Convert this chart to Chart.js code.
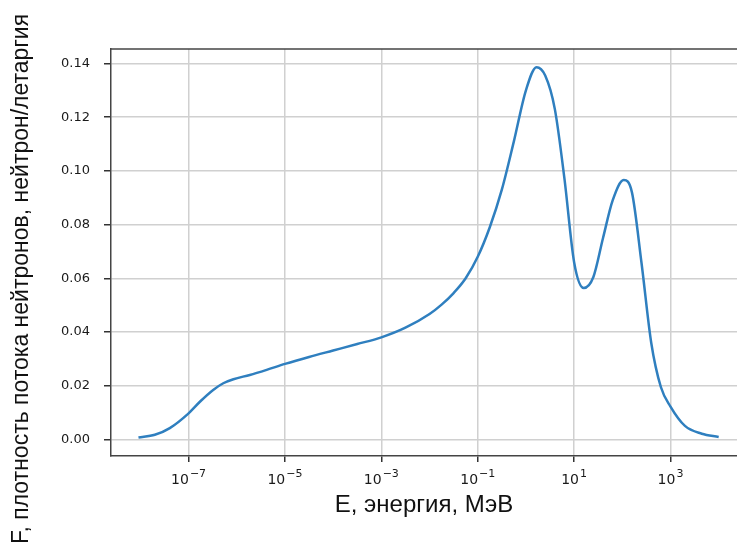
<!DOCTYPE html>
<html>
<head>
<meta charset="utf-8">
<script src="https://cdn.jsdelivr.net/npm/chart.js@4"></script>
<style>
  html, body { margin: 0; padding: 0; background: #fff; overflow: hidden; }
  #wrap { width: 737px; height: 550px; }
</style>
</head>
<body>
<div id="wrap"><canvas id="chart"></canvas></div>
<script>
// log10 of energy (MeV) and flux per lethargy
const logEnergy = [-8.04, -7.70, -7.39, -7.0, -6.76, -6.49, -6.28, -6.07, -5.73, -5.38,
    -5.0, -4.5, -4.0, -3.5, -3.0, -2.5, -2.0, -1.75, -1.5, -1.25,
    -1.0, -0.75, -0.5, -0.25, 0.0, 0.22, 0.4, 0.6, 0.8, 1.0,
    1.2, 1.4, 1.6, 1.8, 2.03, 2.2, 2.4, 2.6, 2.8, 3.0,
    3.3, 3.65, 4.0];
const flux = [0.0007, 0.0017, 0.0042, 0.0097, 0.0141, 0.0184, 0.0209, 0.0224, 0.0240, 0.0259,
    0.0281, 0.0307, 0.0331, 0.0355, 0.038, 0.0416, 0.0467, 0.0502, 0.0545, 0.060,
    0.068, 0.079, 0.093, 0.111, 0.130, 0.1386, 0.1355, 0.123, 0.097, 0.066,
    0.0564, 0.0605, 0.075, 0.089, 0.0966, 0.092, 0.0655, 0.036, 0.0195, 0.0122,
    0.005, 0.0021, 0.0009];

const xTickValues = [1e-7, 1e-5, 1e-3, 1e-1, 1e1, 1e3];
const xTickBase = '10';
const xTickExp = ['−7', '−5', '−3', '−1', '1', '3'];
const yTickValues = [0, 0.02, 0.04, 0.06, 0.08, 0.10, 0.12, 0.14];

const xTitle = 'E, энергия, МэВ';
const yTitle = 'F, плотность потока нейтронов, нейтрон/летаргия';

const points = logEnergy.map((v, i) => ({ x: Math.pow(10, v), y: flux[i] }));

const frame = {
    id: 'frame',
    afterDraw: chart => {
        const { ctx, chartArea } = chart;
        const xScale = chart.scales.x;
        ctx.save();
        ctx.strokeStyle = '#444';
        ctx.lineWidth = 1.5;
        ctx.beginPath();
        ctx.moveTo(chartArea.left, chartArea.top);
        ctx.lineTo(chartArea.right + 5, chartArea.top);
        ctx.stroke();

        // power-of-ten tick labels, "10" with a raised exponent
        ctx.fillStyle = '#1a1a1a';
        ctx.textAlign = 'left';
        ctx.textBaseline = 'alphabetic';
        xTickValues.forEach((v, i) => {
            const px = xScale.getPixelForValue(v);
            ctx.font = '14px "DejaVu Sans"';
            const wb = ctx.measureText(xTickBase).width;
            ctx.font = '11px "DejaVu Sans"';
            const we = ctx.measureText(xTickExp[i]).width;
            const start = px - (wb + we + 1) / 2;
            ctx.font = '14px "DejaVu Sans"';
            ctx.fillText(xTickBase, start, 484);
            ctx.font = '11px "DejaVu Sans"';
            ctx.fillText(xTickExp[i], start + wb + 1, 477);
        });

        // y axis title
        ctx.translate(22, 279);
        ctx.rotate(-Math.PI / 2);
        ctx.font = '23px "Liberation Sans", Arial, sans-serif';
        ctx.fillStyle = '#111';
        ctx.textAlign = 'center';
        ctx.textBaseline = 'middle';
        ctx.fillText(yTitle, 0, 0);
        ctx.restore();
    }
};

const ctx = document.getElementById('chart').getContext('2d');
new Chart(ctx, {
    type: 'line',
    data: {
        datasets: [{
            data: points,
            borderColor: '#2f7fbf',
            borderWidth: 2.5,
            pointRadius: 0,
            fill: false,
            cubicInterpolationMode: 'monotone'
        }]
    },
    options: {
        responsive: true,
        maintainAspectRatio: false,
        animation: false,
        layout: { padding: { left: 0, top: 49, right: 0, bottom: 0 } },
        plugins: { legend: { display: false }, tooltip: { enabled: false } },
        scales: {
            x: {
                type: 'logarithmic',
                min: Math.pow(10, -8.61),
                max: Math.pow(10, 4.38),
                afterBuildTicks: scale => {
                    scale.ticks = xTickValues.map(v => ({ value: v }));
                },
                afterFit: scale => { scale.height = 94; },
                ticks: { display: false },
                grid: {
                    color: '#d0d0d0',
                    lineWidth: 1.5,
                    tickColor: '#333',
                    tickLength: 6
                },
                border: { color: '#444', width: 1.5 },
                title: {
                    display: true,
                    text: xTitle,
                    color: '#111',
                    font: { family: '"Liberation Sans"', size: 24 },
                    padding: { top: 0, bottom: 30 }
                }
            },
            y: {
                min: -0.0062,
                max: 0.1454,
                afterBuildTicks: scale => {
                    scale.ticks = yTickValues.map(v => ({ value: v }));
                },
                afterFit: scale => { scale.width = 111; },
                ticks: {
                    padding: 14,
                    color: '#1a1a1a',
                    font: { family: '"DejaVu Sans"', size: 13 },
                    callback: value => value.toFixed(2)
                },
                grid: {
                    color: '#d0d0d0',
                    lineWidth: 1.5,
                    tickColor: '#333',
                    tickLength: 7
                },
                border: { color: '#444', width: 1.5 }
            }
        }
    },
    plugins: [frame]
});
</script>
</body>
</html>
